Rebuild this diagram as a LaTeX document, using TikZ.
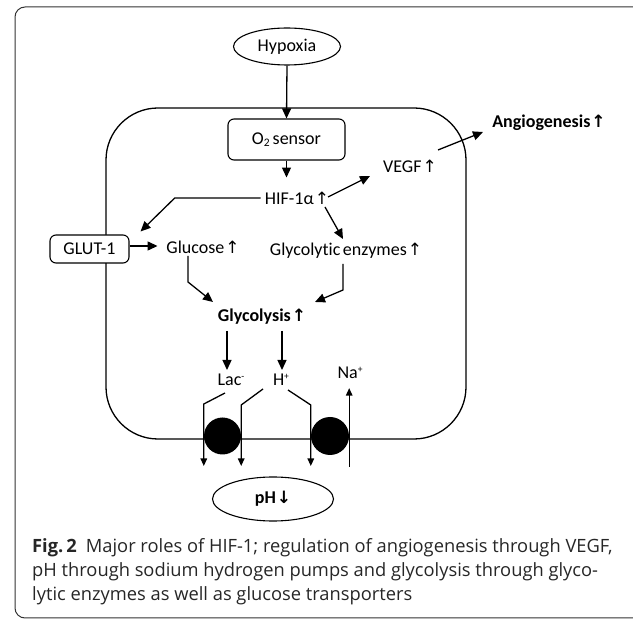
\documentclass[tikz,border=0pt]{standalone}
\usepackage{fontspec}
\setmainfont{Carlito}[Ligatures=NoCommon]
\newfontfamily\arrowfont{DejaVu Sans}
\newfontfamily\capfont{Open Sans}
\usetikzlibrary{shapes.geometric,arrows.meta}

% up and down arrows after a label
\newcommand{\upar}{\hspace{1pt}{\arrowfont\fontsize{17}{16}\selectfont ↑}}
\newcommand{\upbold}{\hspace{1pt}{\arrowfont\bfseries\fontsize{17}{16}\selectfont ↑}}
\newcommand{\downbold}{\hspace{1pt}{\arrowfont\bfseries\fontsize{17}{16}\selectfont ↓}}
\newcommand{\ionsup}[1]{\raisebox{6.5pt}{\fontsize{9.5}{9}\selectfont #1}}

\begin{document}
\begin{tikzpicture}[x=1pt,y=-1pt,
  every node/.style={font=\fontsize{18}{20}\selectfont},
  lbl/.style={inner sep=0pt},
  oval/.style={draw, ellipse, line width=1.1pt, inner sep=0pt, fill=white},
  rbox/.style={draw, rounded corners=6pt, line width=1.1pt, inner sep=0pt, fill=white},
  link/.style={line width=1.3pt, -{Triangle[length=10pt,width=9pt]}},
  flow/.style={line width=1.3pt, -{Triangle[length=7.5pt,width=6.5pt]}},
  capline/.style={font=\capfont\fontsize{18.3}{20}\selectfont, anchor=base west, inner sep=0pt, text=black!85},
  pump/.style={circle, fill=black, minimum size=37pt, inner sep=0pt}
]
\useasboundingbox (0,0) rectangle (633,620);

% outer figure frame
\draw[line width=1pt, black!80, rounded corners=10pt] (15,7) rectangle (645,618);

% cell outline
\draw[line width=1.3pt, rounded corners=52pt] (106,108) rectangle (466,439);

% nodes
\node[oval, minimum width=107pt, minimum height=37pt] (hyp) at (287,46.5) {Hypoxia};
\node[rbox, minimum width=117pt, minimum height=41pt] (o2) at (286.5,139.5)
  {O\raisebox{-2.5pt}{\fontsize{11.5}{11}\selectfont 2}\,sensor};
\node[lbl] (hif) at (297,198) {HIF-1α\upar};
\node[lbl] (vegf) at (410,166) {VEGF\upar};
\node[lbl, font=\bfseries\fontsize{18}{20}\selectfont] (ang) at (549,123) {Angiogenesis\upbold};
\node[rbox, minimum width=79pt, minimum height=28pt] (glut) at (89.5,249) {GLUT-1};
\node[lbl] (glc) at (203,247) {Glucose\upar};
\node[lbl] (enz) at (346,251) {Glycolytic\hspace{-1.5pt} enzymes\upar};
\node[lbl, font=\bfseries\fontsize{18}{20}\selectfont] (gly) at (262,317) {Glycolysis\upbold};
\node[lbl] (lac) at (231,380) {Lac\ionsup{-}};
\node[lbl] (hp) at (281,380) {H\ionsup{+}};
\node[lbl] (na) at (350,373) {Na\ionsup{+}};
\node[pump] (p1) at (222.5,436) {};
\node[pump, minimum size=38pt] (p2) at (330,436) {};
\node[oval, minimum width=121pt, minimum height=44pt, font=\bfseries\fontsize{18}{20}\selectfont] (ph) at (273,499) {pH\downbold};

% signalling arrows
\draw[link] (hyp.south) -- (o2.north);
\draw[link] (o2.south) -- ([yshift=14pt]hif.north -| o2.south);
\draw[link] ([xshift=-4pt]hif.west) -- ++(-86,0) -- ([shift={(11pt,3pt)}]glut.north east);
\draw[link] (glut.east |- glc.west) ++(0,-1) coordinate (g0) (glut.east |- g0) -- ++(28,0);
\draw[link] ([shift={(31pt,1pt)}]hif.center) -- ([shift={(-40pt,-10pt)}]vegf.center);
\draw[link] ([shift={(28pt,16pt)}]vegf.center) -- ([shift={(-66pt,-9pt)}]ang.center);
\draw[link] ([shift={(28pt,-9pt)}]hif.center) -- ([shift={(-3pt,12pt)}]enz.center);
\draw[link] ([shift={(-15pt,-9pt)}]glc.center) -- ++(0,26) -- ([shift={(-49pt,15pt)}]gly.center);
\draw[link] ([shift={(-3pt,-13pt)}]enz.center) -- ++(0,26) -- ([shift={(53pt,15pt)}]gly.center);
\draw[link] ([shift={(-35pt,-14pt)}]gly.center) -- ([shift={(-4pt,10pt)}]lac.center);
\draw[link] ([shift={(20pt,-14pt)}]gly.center) -- ([shift={(1pt,10pt)}]hp.center);

% transport across the membrane
\draw[flow] ([shift={(-6pt,-13pt)}]lac.center) -- (p1.west |- 0,404) -- (p1.west |- 0,466);
\draw[flow] ([shift={(-18pt,-9pt)}]hp.center) -- (p1.east |- 0,405) -- (p1.east |- 0,466);
\draw[flow] ([shift={(7pt,-10pt)}]hp.center) -- (p2.west |- 0,405) -- (p2.west |- 0,466);
\draw[flow] (p2.east |- 0,467) -- ([yshift=-9pt]na.south -| p2.east);

% caption
\node[capline] (c1) at (32,553) {\textbf{Fig.\,2}\hspace{9pt}Major roles of HIF-1; regulation of angiogenesis through VEGF,};
\node[capline] (c2) at (32,577) {pH through sodium hydrogen pumps and glycolysis through glyco-};
\node[capline] (c3) at (32,601) {lytic enzymes as well as glucose transporters};
\end{tikzpicture}
\end{document}
